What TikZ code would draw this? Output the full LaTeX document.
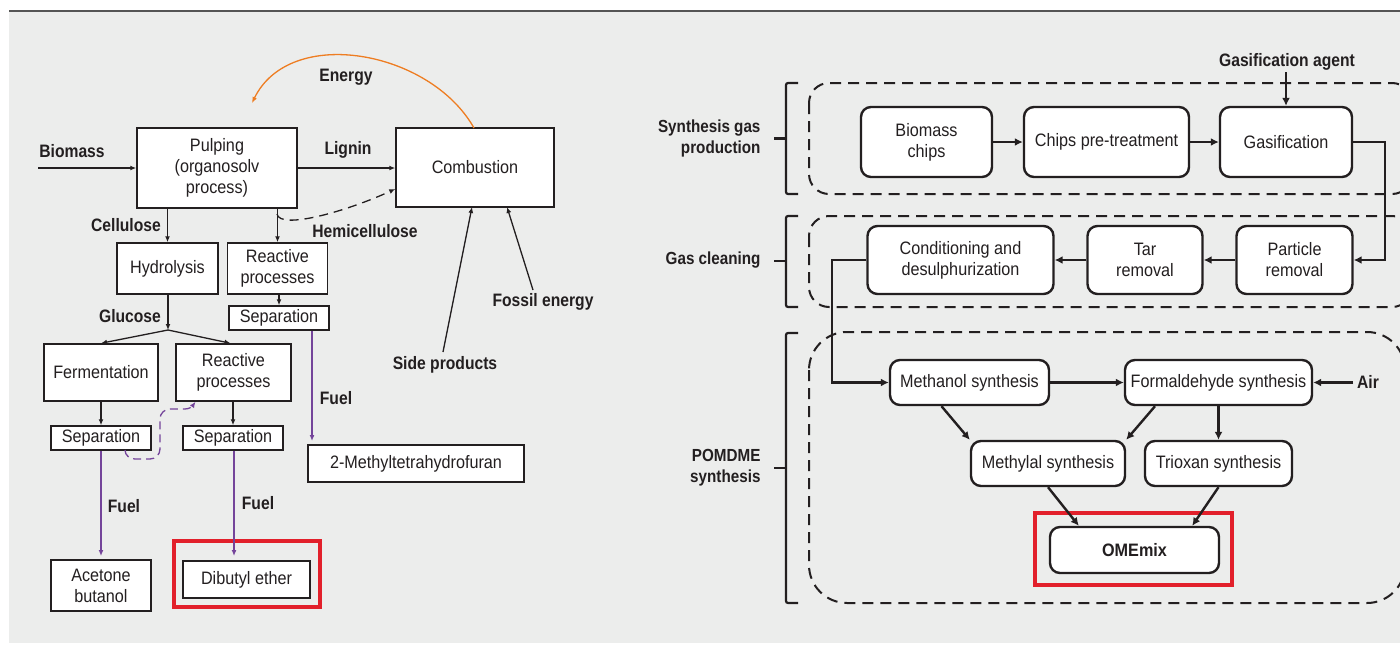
\documentclass[tikz,border=0pt]{standalone}
\usepackage{fontspec}
\setmainfont{Liberation Sans}[FakeStretch=0.9]
\newfontfamily\lblfont{Liberation Sans}[FakeStretch=0.87]
\usetikzlibrary{arrows.meta,calc}
\definecolor{bgc}{HTML}{ECEDEC}
\definecolor{ink}{HTML}{231F20}
\definecolor{rulec}{HTML}{555555}
\definecolor{energyc}{HTML}{EE7D22}
\definecolor{fuelc}{HTML}{74449A}
\definecolor{hilite}{HTML}{E2202B}
\tikzset{
  every node/.style={text=ink, font=\fontsize{18}{21}\selectfont},
  lbox/.style={draw=ink, fill=white, line width=1.5pt, inner sep=0pt, align=center},
  rbox/.style={draw=ink, fill=white, line width=2.4pt, rounded corners=10pt, inner sep=0pt, align=center},
  lbl/.style={font={\lblfont\bfseries\fontsize{18}{21}\selectfont}, align=center},
  rlbl/.style={font={\lblfont\bfseries\fontsize{17.5}{21}\selectfont}, align=right, anchor=east},
  arrl/.style={draw=ink, line width=1.3pt, -{Latex[length=6pt,width=5pt]}},
  arrfuel/.style={draw=fuelc, line width=1.3pt, -{Latex[length=6pt,width=5pt]}},
  arrr/.style={draw=ink, line width=2.4pt, -{Latex[length=8pt,width=8pt]}},
  grp/.style={draw=ink, line width=2pt, dash pattern=on 11pt off 7pt},
  brace/.style={draw=ink, line width=2.2pt, rounded corners=2pt},
  hiliteframe/.style={draw=hilite, line width=4.5pt}
}
\begin{document}
\begin{tikzpicture}[x=1pt,y=-1pt]
\useasboundingbox (0,0) rectangle (1400,645);
\fill[bgc] (9,12) rectangle (1400,643);
\draw[line width=1.6pt, rulec] (9,11) -- (1400,11);

% ---------- organosolv route (left) ----------
\node[lbox, minimum width=160pt, minimum height=80pt] (pulp) at (217,168) {Pulping\\(organosolv\\process)};
\node[lbox, minimum width=158pt, minimum height=79pt] (comb) at (475,167.5) {Combustion};
\node[lbox, minimum width=101pt, minimum height=51pt] (hydro) at (167.5,268.5) {Hydrolysis};
\node[lbox, minimum width=100pt, minimum height=51pt] (react1) at (277.5,268.5) {Reactive\\processes};
\node[lbox, minimum width=100pt, minimum height=24pt] (sep1) at (279,318) {Separation};
\node[lbox, minimum width=216pt, minimum height=37pt] (mthf) at (416,463.5) {2-Methyltetrahydrofuran};
\node[lbox, minimum width=114pt, minimum height=57pt] (ferm) at (101,372.5) {Fermentation};
\node[lbox, minimum width=115pt, minimum height=57pt] (react2) at (233.5,372.5) {Reactive\\processes};
\node[lbox, minimum width=100pt, minimum height=24pt] (sep2) at (101,438) {Separation};
\node[lbox, minimum width=100pt, minimum height=24pt] (sep3) at (233,438) {Separation};
\node[lbox, minimum width=100pt, minimum height=51pt] (acet) at (101,585.5) {Acetone\\butanol};
\node[lbox, minimum width=127pt, minimum height=37pt] (dbe) at (246.5,579.5) {Dibutyl ether};
\draw[hiliteframe] (174,541) rectangle (320,607);

% labels
\node[lbl] (lbio) at (72,151) {Biomass};
\node[lbl] (llig) at (348,150) {Lignin};
\node[lbl] (lene) at (346,77) {Energy};
\node[lbl] (lhemi) at (365,231) {Hemicellulose};
\node[lbl] (lcell) at (126,225) {Cellulose};
\node[lbl] (lglu) at (130,316) {Glucose};
\node[lbl] (lfuel1) at (336,398) {Fuel};
\node[lbl] (lfuel2) at (124,506) {Fuel};
\node[lbl] (lfuel3) at (258,503) {Fuel};
\node[lbl] (lside) at (445,365) {Side products};
\node[lbl] (lfoss) at (543,302) {Fossil energy};

% free ends
\coordinate (bioin) at (38,168);
\coordinate (hcs) at (277,214);
\coordinate (hce) at (396,189);
\coordinate (glu) at (168,330);
\coordinate (f1) at (312,441);
\coordinate (f2) at (101,556);
\coordinate (f3) at (234,556);
\coordinate (sps) at (443,352);
\coordinate (spe) at (472,207);
\coordinate (fos) at (533,290);
\coordinate (foe) at (507,207);
\coordinate (ens) at (474,128);
\coordinate (ene) at (252,103);
\coordinate (rcs) at (125,450);

% connectors
\draw[arrl] (bioin) -- (pulp.west |- bioin);
\draw[arrl] (pulp.east |- bioin) -- (comb.west |- bioin);
\draw[draw=energyc, line width=1.3pt, -{Latex[length=6pt,width=5pt]}] (ens) .. controls (430,50) and (290,25) .. (ene);
\draw[arrl, dash pattern=on 9pt off 6pt] (hcs) .. controls (280,230) and (345,212) .. (comb.west |- hce);
\draw[arrl] (pulp.south -| react1.north) -- (react1.north);
\draw[arrl] (pulp.south -| hydro.north) -- (hydro.north);
\draw[arrl] (react1.south -| sep1.north) -- (sep1.north);
\draw[arrfuel] (sep1.south -| f1) -- (f1);
\draw[arrl] (hydro.south -| glu) -- (glu);
\draw[arrl] (glu) -- (ferm.north);
\draw[arrl] (glu) -- ($(react2.north)+(-3,0)$);
\draw[arrl] (ferm.south) -- (sep2.north);
\draw[arrl] (react2.south -| sep3.north) -- (sep3.north);
\draw[draw=fuelc, line width=1.3pt, dash pattern=on 8pt off 5pt, -{Latex[length=6pt,width=5pt]}]
  (rcs) to[out=-90,in=180] (135,459) -- (150,459) to[out=0,in=-90] (160,449)
  -- (160,419) to[out=90,in=180] (170,409) -- (185,409) to[out=0,in=-125] ($(react2.south)+(-38,0)$);
\draw[arrfuel] (sep2.south) -- (f2);
\draw[arrfuel] (sep3.south -| f3) -- (f3);
\draw[arrl] (sps) -- (spe);
\draw[arrl] (fos) -- (foe);

% ---------- POMDME route (right) ----------
\begin{scope}
\clip (9,12) rectangle (1400,643);
\draw[grp, rounded corners=20pt] (809,83) rectangle (1412,194);
\draw[grp, rounded corners=20pt] (809,216) rectangle (1412,307);
\draw[grp, rounded corners=38pt] (809,332) rectangle (1405,603);
\end{scope}

\draw[brace] (798,83) -- (786,83) -- (786,194) -- (798,194);
\draw[brace] (786,138.5) -- (774,138.5);
\draw[brace] (798,216) -- (786,216) -- (786,307) -- (798,307);
\draw[brace] (786,261) -- (774,261);
\draw[brace] (798,333) -- (786,333) -- (786,603) -- (798,603);
\draw[brace] (786,468) -- (774,468);

\node[rlbl] (lsyn) at (764,138) {Synthesis gas\\production};
\node[rlbl] (lclean) at (764,260) {Gas cleaning};
\node[rlbl] (lpom) at (764,468) {POMDME\\synthesis};

\node[rbox, minimum width=131pt, minimum height=70pt] (chips) at (926.5,142) {Biomass\\chips};
\node[rbox, minimum width=165pt, minimum height=70pt] (pretr) at (1106.5,142) {Chips pre-treatment};
\node[rbox, minimum width=132pt, minimum height=70pt] (gasif) at (1286,142) {Gasification};
\node[rbox, minimum width=116pt, minimum height=68pt] (part) at (1294.5,260) {Particle\\removal};
\node[rbox, minimum width=115pt, minimum height=68pt] (tar) at (1145,260) {Tar\\removal};
\node[rbox, minimum width=186pt, minimum height=68pt] (cond) at (960.5,260) {Conditioning and\\desulphurization};
\node[rbox, minimum width=159pt, minimum height=45pt] (meth) at (969.5,382.5) {Methanol synthesis};
\node[rbox, minimum width=187pt, minimum height=45pt] (form) at (1218.5,382.5) {Formaldehyde synthesis};
\node[rbox, minimum width=154pt, minimum height=45pt] (methyl) at (1048,463.5) {Methylal synthesis};
\node[rbox, minimum width=147pt, minimum height=45pt] (triox) at (1218.5,463.5) {Trioxan synthesis};
\node[rbox, minimum width=169pt, minimum height=46pt, font={\bfseries\fontsize{18}{21}\selectfont}] (ome) at (1134.5,550) {OMEmix};
\draw[hiliteframe] (1035,513) rectangle (1232,585);

\node[lbl] (lgas) at (1287,62) {Gasification agent};
\node[lbl] (lair) at (1368,382) {Air};

\coordinate (ga) at (1286,72);
\coordinate (gc) at (1385,200);
\coordinate (cc) at (832,320);
\coordinate (airs) at (1353,382.5);

\draw[arrr] (chips.east) -- (pretr.west);
\draw[arrr] (pretr.east) -- (gasif.west);
\draw[arrr] (ga) -- (gasif.north);
\draw[arrr] (gasif.east) -| (gc) |- (part.east);
\draw[arrr] (part.west) -- (tar.east);
\draw[arrr] (tar.west) -- (cond.east);
\draw[arrr] (cond.west) -| (cc) |- (meth.west);
\draw[arrr] (meth.east) -- (form.west);
\draw[arrr] (airs) -- (form.east);
\draw[arrr] ($(meth.south)+(-28,0)$) -- (methyl.north west);
\draw[arrr] ($(form.south)+(-63.5,0)$) -- (methyl.north east);
\draw[arrr] (form.south) -- (triox.north);
\draw[arrr] (methyl.south) -- ($(ome.north west)+(30,0)$);
\draw[arrr] (triox.south) -- ($(ome.north east)+(-28,0)$);
\end{tikzpicture}
\end{document}
